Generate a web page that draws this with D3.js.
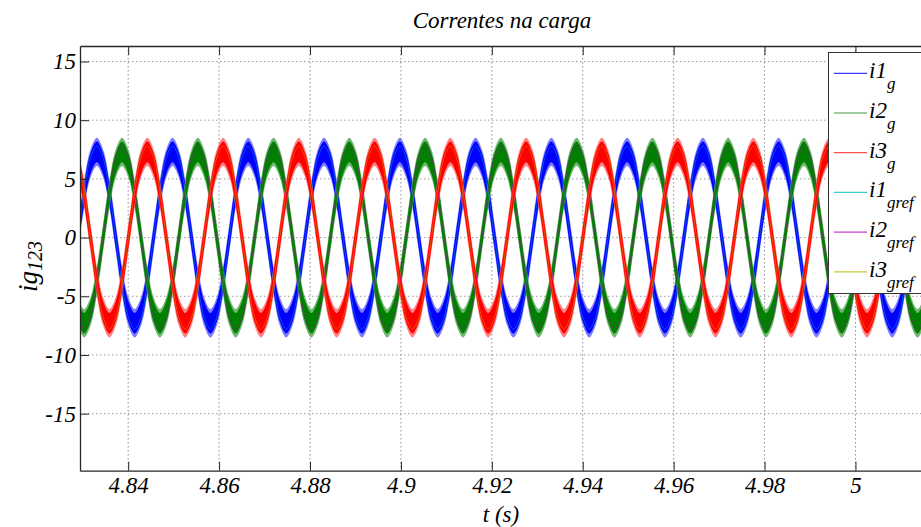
<!DOCTYPE html>
<html><head><meta charset="utf-8">
<script src="https://cdn.jsdelivr.net/npm/d3@7"></script>
<style>
body{margin:0;background:#fff}
svg{display:block;background:#fff}
</style>
</head><body>
<svg id="chart" width="921" height="527"></svg>
<script>
// ---------- data ----------
const title = "Correntes na carga";
const xLabel = "t (s)";
const yLabelMain = "ig", yLabelSub = "123";
const xTicks = [4.84, 4.86, 4.88, 4.90, 4.92, 4.94, 4.96, 4.98, 5.00];
const xTickLabels = ["4.84", "4.86", "4.88", "4.9", "4.92", "4.94", "4.96", "4.98", "5"];
const yTicks = [15, 10, 5, 0, -5, -10, -15];
const yTickLabels = ["15", "10", "5", "0", "-5", "-10", "-15"];
const legendMain = ["i1", "i2", "i3", "i1", "i2", "i3"];
const legendSub = ["g", "g", "g", "gref", "gref", "gref"];

// sampled every 1/720 s starting at tStart
const tStart = 4.82893, tStep = 1 / 720;

const i1g = [
 0, 3.7, 6.3, 7.3, 6.3, 3.7, 0, -3.7, -6.3, -7.3, -6.3, -3.7,
 0, 3.7, 6.3, 7.3, 6.3, 3.7, 0, -3.7, -6.3, -7.3, -6.3, -3.7,
 0, 3.7, 6.3, 7.3, 6.3, 3.7, 0, -3.7, -6.3, -7.3, -6.3, -3.7,
 0, 3.7, 6.3, 7.3, 6.3, 3.7, 0, -3.7, -6.3, -7.3, -6.3, -3.7,
 0, 3.7, 6.3, 7.3, 6.3, 3.7, 0, -3.7, -6.3, -7.3, -6.3, -3.7,
 0, 3.7, 6.3, 7.3, 6.3, 3.7, 0, -3.7, -6.3, -7.3, -6.3, -3.7,
 0, 3.7, 6.3, 7.3, 6.3, 3.7, 0, -3.7, -6.3, -7.3, -6.3, -3.7,
 0, 3.7, 6.3, 7.3, 6.3, 3.7, 0, -3.7, -6.3, -7.3, -6.3, -3.7,
 0, 3.7, 6.3, 7.3, 6.3, 3.7, 0, -3.7, -6.3, -7.3, -6.3, -3.7,
 0, 3.7, 6.3, 7.3, 6.3, 3.7, 0, -3.7, -6.3, -7.3, -6.3, -3.7,
 0, 3.7, 6.3, 7.3, 6.3, 3.7, 0, -3.7, -6.3, -7.3, -6.3, -3.7,
 0, 3.7, 6.3, 7.3
];
const i2g = [
 -6.3, -7.3, -6.3, -3.7, 0, 3.7, 6.3, 7.3, 6.3, 3.7, 0, -3.7,
 -6.3, -7.3, -6.3, -3.7, 0, 3.7, 6.3, 7.3, 6.3, 3.7, 0, -3.7,
 -6.3, -7.3, -6.3, -3.7, 0, 3.7, 6.3, 7.3, 6.3, 3.7, 0, -3.7,
 -6.3, -7.3, -6.3, -3.7, 0, 3.7, 6.3, 7.3, 6.3, 3.7, 0, -3.7,
 -6.3, -7.3, -6.3, -3.7, 0, 3.7, 6.3, 7.3, 6.3, 3.7, 0, -3.7,
 -6.3, -7.3, -6.3, -3.7, 0, 3.7, 6.3, 7.3, 6.3, 3.7, 0, -3.7,
 -6.3, -7.3, -6.3, -3.7, 0, 3.7, 6.3, 7.3, 6.3, 3.7, 0, -3.7,
 -6.3, -7.3, -6.3, -3.7, 0, 3.7, 6.3, 7.3, 6.3, 3.7, 0, -3.7,
 -6.3, -7.3, -6.3, -3.7, 0, 3.7, 6.3, 7.3, 6.3, 3.7, 0, -3.7,
 -6.3, -7.3, -6.3, -3.7, 0, 3.7, 6.3, 7.3, 6.3, 3.7, 0, -3.7,
 -6.3, -7.3, -6.3, -3.7, 0, 3.7, 6.3, 7.3, 6.3, 3.7, 0, -3.7,
 -6.3, -7.3, -6.3, -3.7
];
const i3g = [
 6.3, 3.7, 0, -3.7, -6.3, -7.3, -6.3, -3.7, 0, 3.7, 6.3, 7.3,
 6.3, 3.7, 0, -3.7, -6.3, -7.3, -6.3, -3.7, 0, 3.7, 6.3, 7.3,
 6.3, 3.7, 0, -3.7, -6.3, -7.3, -6.3, -3.7, 0, 3.7, 6.3, 7.3,
 6.3, 3.7, 0, -3.7, -6.3, -7.3, -6.3, -3.7, 0, 3.7, 6.3, 7.3,
 6.3, 3.7, 0, -3.7, -6.3, -7.3, -6.3, -3.7, 0, 3.7, 6.3, 7.3,
 6.3, 3.7, 0, -3.7, -6.3, -7.3, -6.3, -3.7, 0, 3.7, 6.3, 7.3,
 6.3, 3.7, 0, -3.7, -6.3, -7.3, -6.3, -3.7, 0, 3.7, 6.3, 7.3,
 6.3, 3.7, 0, -3.7, -6.3, -7.3, -6.3, -3.7, 0, 3.7, 6.3, 7.3,
 6.3, 3.7, 0, -3.7, -6.3, -7.3, -6.3, -3.7, 0, 3.7, 6.3, 7.3,
 6.3, 3.7, 0, -3.7, -6.3, -7.3, -6.3, -3.7, 0, 3.7, 6.3, 7.3,
 6.3, 3.7, 0, -3.7, -6.3, -7.3, -6.3, -3.7, 0, 3.7, 6.3, 7.3,
 6.3, 3.7, 0, -3.7
];
const i1gref = [
 0, 3.9, 6.8, 7.8, 6.8, 3.9, 0, -3.9, -6.8, -7.8, -6.8, -3.9,
 0, 3.9, 6.8, 7.8, 6.8, 3.9, 0, -3.9, -6.8, -7.8, -6.8, -3.9,
 0, 3.9, 6.8, 7.8, 6.8, 3.9, 0, -3.9, -6.8, -7.8, -6.8, -3.9,
 0, 3.9, 6.8, 7.8, 6.8, 3.9, 0, -3.9, -6.8, -7.8, -6.8, -3.9,
 0, 3.9, 6.8, 7.8, 6.8, 3.9, 0, -3.9, -6.8, -7.8, -6.8, -3.9,
 0, 3.9, 6.8, 7.8, 6.8, 3.9, 0, -3.9, -6.8, -7.8, -6.8, -3.9,
 0, 3.9, 6.8, 7.8, 6.8, 3.9, 0, -3.9, -6.8, -7.8, -6.8, -3.9,
 0, 3.9, 6.8, 7.8, 6.8, 3.9, 0, -3.9, -6.8, -7.8, -6.8, -3.9,
 0, 3.9, 6.8, 7.8, 6.8, 3.9, 0, -3.9, -6.8, -7.8, -6.8, -3.9,
 0, 3.9, 6.8, 7.8, 6.8, 3.9, 0, -3.9, -6.8, -7.8, -6.8, -3.9,
 0, 3.9, 6.8, 7.8, 6.8, 3.9, 0, -3.9, -6.8, -7.8, -6.8, -3.9,
 0, 3.9, 6.8, 7.8
];
const i2gref = [
 -6.8, -7.8, -6.8, -3.9, 0, 3.9, 6.8, 7.8, 6.8, 3.9, 0, -3.9,
 -6.8, -7.8, -6.8, -3.9, 0, 3.9, 6.8, 7.8, 6.8, 3.9, 0, -3.9,
 -6.8, -7.8, -6.8, -3.9, 0, 3.9, 6.8, 7.8, 6.8, 3.9, 0, -3.9,
 -6.8, -7.8, -6.8, -3.9, 0, 3.9, 6.8, 7.8, 6.8, 3.9, 0, -3.9,
 -6.8, -7.8, -6.8, -3.9, 0, 3.9, 6.8, 7.8, 6.8, 3.9, 0, -3.9,
 -6.8, -7.8, -6.8, -3.9, 0, 3.9, 6.8, 7.8, 6.8, 3.9, 0, -3.9,
 -6.8, -7.8, -6.8, -3.9, 0, 3.9, 6.8, 7.8, 6.8, 3.9, 0, -3.9,
 -6.8, -7.8, -6.8, -3.9, 0, 3.9, 6.8, 7.8, 6.8, 3.9, 0, -3.9,
 -6.8, -7.8, -6.8, -3.9, 0, 3.9, 6.8, 7.8, 6.8, 3.9, 0, -3.9,
 -6.8, -7.8, -6.8, -3.9, 0, 3.9, 6.8, 7.8, 6.8, 3.9, 0, -3.9,
 -6.8, -7.8, -6.8, -3.9, 0, 3.9, 6.8, 7.8, 6.8, 3.9, 0, -3.9,
 -6.8, -7.8, -6.8, -3.9
];
const i3gref = [
 6.8, 3.9, 0, -3.9, -6.8, -7.8, -6.8, -3.9, 0, 3.9, 6.8, 7.8,
 6.8, 3.9, 0, -3.9, -6.8, -7.8, -6.8, -3.9, 0, 3.9, 6.8, 7.8,
 6.8, 3.9, 0, -3.9, -6.8, -7.8, -6.8, -3.9, 0, 3.9, 6.8, 7.8,
 6.8, 3.9, 0, -3.9, -6.8, -7.8, -6.8, -3.9, 0, 3.9, 6.8, 7.8,
 6.8, 3.9, 0, -3.9, -6.8, -7.8, -6.8, -3.9, 0, 3.9, 6.8, 7.8,
 6.8, 3.9, 0, -3.9, -6.8, -7.8, -6.8, -3.9, 0, 3.9, 6.8, 7.8,
 6.8, 3.9, 0, -3.9, -6.8, -7.8, -6.8, -3.9, 0, 3.9, 6.8, 7.8,
 6.8, 3.9, 0, -3.9, -6.8, -7.8, -6.8, -3.9, 0, 3.9, 6.8, 7.8,
 6.8, 3.9, 0, -3.9, -6.8, -7.8, -6.8, -3.9, 0, 3.9, 6.8, 7.8,
 6.8, 3.9, 0, -3.9, -6.8, -7.8, -6.8, -3.9, 0, 3.9, 6.8, 7.8,
 6.8, 3.9, 0, -3.9, -6.8, -7.8, -6.8, -3.9, 0, 3.9, 6.8, 7.8,
 6.8, 3.9, 0, -3.9
];
// half-height of the switching ripple band on the measured currents
const rippleAmp = [1.1, 1.1, 1.1];

// ---------- layout / style ----------
const FONT = '"Liberation Serif", "Times New Roman", Times, "DejaVu Serif", serif';
const plot = {left: 80, right: 935, top: 46, bottom: 470.7};
const measColors = ["#0000ff", "#008000", "#ff0000"];
const fringeColors = ["#5c5cff", "#4da64d", "#ff6464"];
const refColors = ["#00bfbf", "#bf00bf", "#bfbf00"];
const legendColors = ["#3a3aff", "#3c9c3c", "#ff5050", "#3fcfcf", "#cf3fcf", "#c8c83a"];

const svg = d3.select("#chart").attr("font-family", FONT).attr("font-style", "italic");
const x = d3.scaleLinear().domain([4.8294, 5.0175]).range([plot.left, plot.right]);
const y = d3.scaleLinear().domain([-19.86, 16.32]).range([plot.bottom, plot.top]);

const times = i1g.map((_, i) => tStart + i * tStep);
const meas = [i1g, i2g, i3g];
const refs = [i1gref, i2gref, i3gref];

svg.append("defs").append("clipPath").attr("id", "clip")
  .append("rect").attr("x", plot.left).attr("y", plot.top)
  .attr("width", plot.right - plot.left).attr("height", plot.bottom - plot.top);

// grid
const grid = svg.append("g");
grid.selectAll("line.gx").data(xTicks).join("line")
  .attr("x1", d => x(d)).attr("x2", d => x(d))
  .attr("y1", plot.top).attr("y2", plot.bottom)
  .attr("stroke", "#8c8c8c").attr("stroke-width", 1).attr("stroke-dasharray", "1.5,2.5");
grid.selectAll("line.gy").data(yTicks).join("line")
  .attr("x1", plot.left).attr("x2", plot.right)
  .attr("y1", d => y(d)).attr("y2", d => y(d))
  .attr("stroke", "#9a9a9a").attr("stroke-width", 1).attr("stroke-dasharray", "1.5,2.5");

// data: measured ripple bands, thin reference lines on top
const dataG = svg.append("g").attr("clip-path", "url(#clip)");
const curve = d3.curveCatmullRom.alpha(0.5);
const toPts = arr => arr.map((v, i) => [times[i], v]);
meas.forEach((arr, k) => {
  const pts = toPts(arr);
  const outer = d3.area().curve(curve)
    .x(d => x(d[0])).y0(d => y(d[1] - rippleAmp[k] * 1.1)).y1(d => y(d[1] + rippleAmp[k] * 1.1));
  const inner = d3.area().curve(curve)
    .x(d => x(d[0])).y0(d => y(d[1] - rippleAmp[k] * 0.8)).y1(d => y(d[1] + rippleAmp[k] * 0.8));
  dataG.append("path").attr("d", outer(pts)).attr("fill", fringeColors[k]).attr("opacity", 0.8);
  dataG.append("path").attr("d", inner(pts)).attr("fill", measColors[k]);
});
refs.forEach((arr, k) => {
  const line = d3.line().curve(curve).x(d => x(d[0])).y(d => y(d[1]));
  dataG.append("path").attr("d", line(toPts(arr))).attr("fill", "none")
    .attr("stroke", refColors[k]).attr("stroke-width", 0.6).attr("opacity", 0.7);
});

// axes (ticks inward, box)
const axColor = "#262626";
const fmtX = (d) => xTickLabels[xTicks.indexOf(d)];
const fmtY = (d) => yTickLabels[yTicks.indexOf(d)];
const styleAxis = g => {
  g.attr("font-family", FONT).attr("font-size", 23).attr("font-style", "italic");
  g.select(".domain").attr("stroke", axColor).attr("stroke-width", 1.3);
  g.selectAll(".tick line").attr("stroke", axColor).attr("stroke-width", 1);
  g.selectAll(".tick text").attr("fill", "#000");
};
svg.append("g").attr("transform", `translate(0,${plot.bottom})`)
  .call(d3.axisBottom(x).tickValues(xTicks).tickFormat(fmtX).tickSizeInner(-9).tickSizeOuter(0).tickPadding(6))
  .call(styleAxis);
svg.append("g").attr("transform", `translate(0,${plot.top})`)
  .call(d3.axisTop(x).tickValues(xTicks).tickFormat("").tickSizeInner(-9).tickSizeOuter(0))
  .call(styleAxis);
svg.append("g").attr("transform", `translate(${plot.left},0)`)
  .call(d3.axisLeft(y).tickValues(yTicks).tickFormat(fmtY).tickSizeInner(-9).tickSizeOuter(0).tickPadding(4))
  .call(styleAxis);
svg.append("g").attr("transform", `translate(${plot.right},0)`)
  .call(d3.axisRight(y).tickValues(yTicks).tickFormat("").tickSizeInner(-9).tickSizeOuter(0))
  .call(styleAxis);

// title & labels
svg.append("text").attr("x", 502).attr("y", 28).attr("text-anchor", "middle")
  .attr("font-size", 23).text(title);
svg.append("text").attr("x", 501).attr("y", 522).attr("text-anchor", "middle")
  .attr("font-size", 23).text(xLabel);
const yl = svg.append("text").attr("transform", "translate(37,292) rotate(-90)")
  .attr("text-anchor", "start").attr("font-size", 27);
yl.append("tspan").text(yLabelMain);
yl.append("tspan").attr("dy", 5).attr("font-size", 20).text(yLabelSub);

// legend
const lg = svg.append("g");
lg.append("rect").attr("x", 828.5).attr("y", 52.5).attr("width", 140).attr("height", 241)
  .attr("fill", "#fff").attr("stroke", "#333").attr("stroke-width", 1);
legendMain.forEach((m, i) => {
  const yy = 73.3 + i * 39.7;
  lg.append("line").attr("x1", 834).attr("x2", 867).attr("y1", yy).attr("y2", yy)
    .attr("stroke", legendColors[i]).attr("stroke-width", 1.2);
  const t = lg.append("text").attr("x", 869).attr("y", yy + 5).attr("font-size", 23);
  t.append("tspan").text(m);
  t.append("tspan").attr("dy", 11).attr("font-size", 17).text(legendSub[i]);
});
</script>
</body></html>
